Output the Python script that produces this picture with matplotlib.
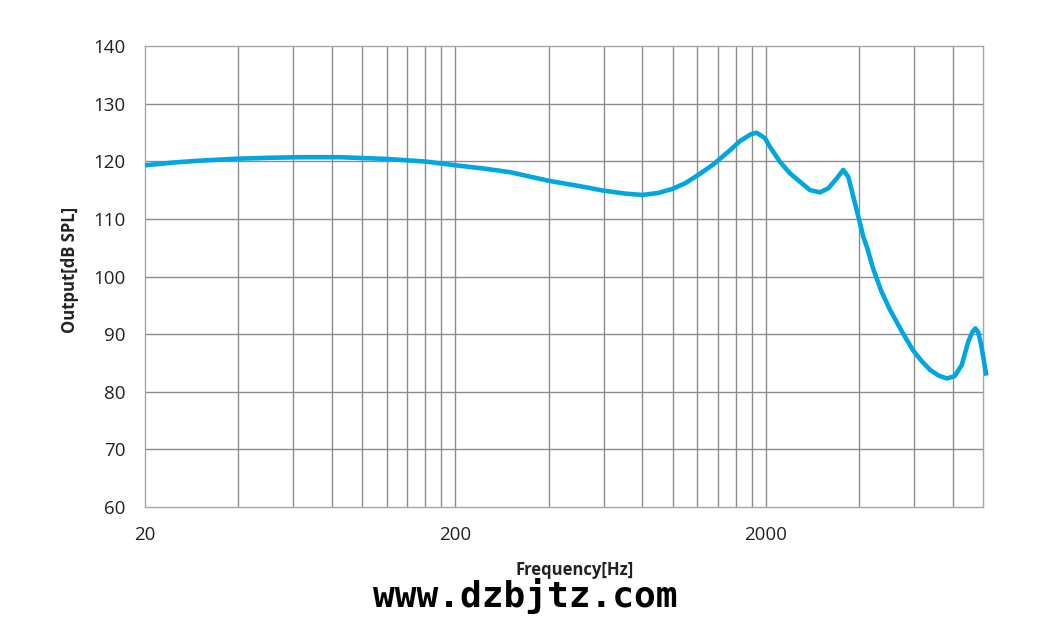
import matplotlib
matplotlib.use("Agg")
import matplotlib.pyplot as plt
from matplotlib.ticker import FixedLocator, NullFormatter, FixedFormatter

freq = [20, 25, 30, 40, 50, 63, 85, 120, 160, 200, 250, 300, 400, 500, 600,
        700, 800, 900, 1000, 1100, 1200, 1350, 1531, 1649, 1790, 1867, 1985,
        2060, 2219, 2390, 2606, 2771, 2985, 3175, 3378, 3548, 3682, 3820,
        3967, 4116, 4240, 4420, 4700, 5020, 5500, 5950, 6350, 6750, 7200,
        7650, 8100, 8537, 8964, 9250, 9450, 9650, 9850, 10000, 10250]
spl = [119.3, 119.8, 120.1, 120.45, 120.6, 120.7, 120.7, 120.4, 119.95, 119.3,
       118.7, 118.1, 116.6, 115.7, 114.9, 114.4, 114.15, 114.5, 115.2, 116.2,
       117.5, 119.4, 121.9, 123.5, 124.7, 124.95, 124.0, 122.5, 119.9, 117.9,
       116.2, 115.0, 114.6, 115.3, 117.0, 118.5, 117.3, 113.9, 110.4, 106.9,
       104.9, 101.5, 97.5, 94.2, 90.3, 87.2, 85.3, 83.8, 82.8, 82.3, 82.7,
       84.6, 88.7, 90.4, 91.0, 90.3, 88.3, 86.3, 82.8]

xtick_vals = [20, 200, 2000]
xtick_labels = ["20", "200", "2000"]
ytick_vals = [60, 70, 80, 90, 100, 110, 120, 130, 140]
grid_x = [40, 60, 80, 100, 120, 140, 160, 180, 200,
          400, 600, 800, 1000, 1200, 1400, 1600, 1800, 2000,
          4000, 6000, 8000]

plt.rcParams['font.family'] = ['Open Sans', 'DejaVu Sans']

fig = plt.figure(figsize=(10.54, 6.2), dpi=100)
ax = fig.add_axes([145/1054, 1-507/620, (983-145)/1054, (507-46)/620])

ax.set_xscale('log')
ax.set_xlim(20, 10000)
ax.set_ylim(60, 140)

for g in grid_x:
    ax.axvline(g, color='#8c8c8c', lw=1.0, zorder=1)
for g in ytick_vals[1:-1]:
    ax.axhline(g, color='#8c8c8c', lw=1.0, zorder=1)

ax.plot(freq, spl, color='#00a6e0', lw=3.3, zorder=3, clip_on=False,
        solid_capstyle='butt', solid_joinstyle='round')

ax.xaxis.set_major_locator(FixedLocator(xtick_vals))
ax.xaxis.set_major_formatter(FixedFormatter(xtick_labels))
ax.xaxis.set_minor_locator(FixedLocator([]))
ax.xaxis.set_minor_formatter(NullFormatter())
ax.set_yticks(ytick_vals)
ax.tick_params(axis='both', length=0, labelsize=13.5, colors='#222222')
ax.tick_params(axis='x', pad=14)
ax.tick_params(axis='y', pad=14)
for s in ax.spines.values():
    s.set_color('#a6a6a6')
    s.set_linewidth(1.0)

fig.text(575/1054, 1-570/620, "Frequency[Hz]", ha='center', va='center',
         fontsize=12, fontweight='bold', color='#222222')
fig.text(70/1054, 1-270/620, "Output[dB SPL]", ha='center', va='center',
         rotation=90, fontsize=12, fontweight='bold', color='#222222')
fig.text(525/1054, 1-596/620, "www.dzbjtz.com", ha='center', va='center',
         fontsize=26, fontweight='bold', family='DejaVu Sans Mono', color='black')

fig.savefig("out.png", dpi=100)
